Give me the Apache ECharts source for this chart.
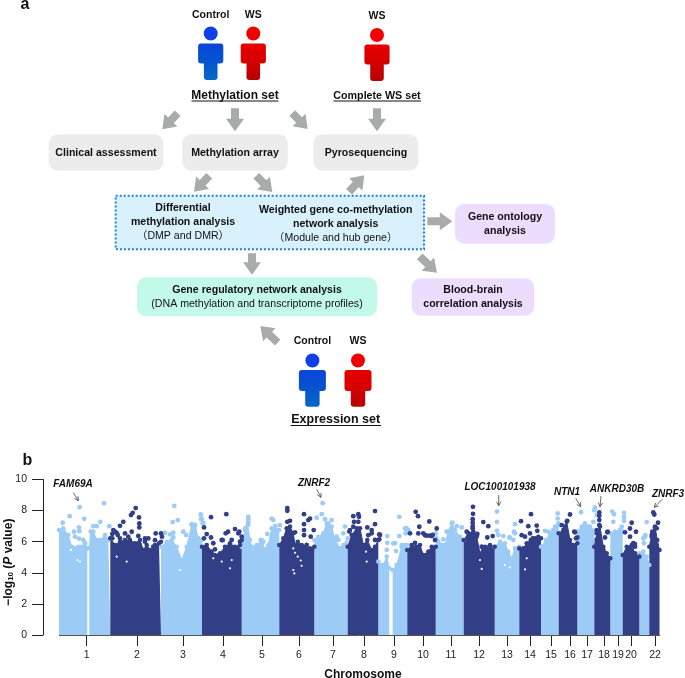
<!DOCTYPE html>
<html><head><meta charset="utf-8">
<style>html,body{margin:0;padding:0;background:#fff}#c{width:685px;height:678px}</style>
<script src="https://cdn.jsdelivr.net/npm/echarts@6/dist/echarts.min.js"></script>
</head><body><div id="c"></div>
<script>
// Panel b: genome position (arbitrary units along the concatenated genome), -log10(P)
const chromosomes = ['1','2','3','4','5','6','7','8','9','10','11','12','13','14','15','16','17','18','19','20','21','22'];
const chromosomeCentres = [27.7,78,124,164,203,240,274,305,335,364,392,420,448,471,492,511,528,545,559,572,585,596];
const genes = ['FAM69A','ZNRF2','LOC100101938','NTN1','ANKRD30B','ZNRF3'];

const sky1a = [[0,6.75],[4.3,6.86],[9.3,6.43],[12.7,5.68],[16,5.57],[19.3,5.68],[22.7,5.68],[26,5.68],[28.3,5.57]];
const sky1b = [[30.3,5.57],[31.7,6.65],[34.3,6.65],[37.7,6.11],[41,6.11],[46,6.43],[49.3,6.11],[51.3,6.22]];
const sky2 = [[51.3,6.22],[56,5.79],[61,6],[66,6.11],[71,6.11],[76,5.9],[81,6.11],[84.3,5.47],[87.7,5.79],[91,5.47],[96,5.79],[100,5.9],[102,6]];
const sky3 = [[102,5.68],[107.7,6],[112.7,6.11],[117.7,5.68],[122.7,4.82],[127.7,5.68],[132.7,7.08],[136,7.08],[139.3,6.22],[143,6.11]];
const sky4 = [[143,5.68],[147.7,5.79],[152.7,5.36],[156,5.14],[161,5.25],[166,5.68],[171,5.9],[176,5.68],[181,5.79],[182.7,6.11]];
const sky5 = [[182.7,5.68],[186,6.75],[188.7,7.08],[191,6.11],[192.7,5.68],[197.7,5.79],[202.7,6.11],[206,5.5],[209.3,5.79],[212.7,6.86],[216,6.97],[220.3,6.75]];
const sky6 = [[220.3,5.79],[224.3,6.22],[227.7,6.86],[231,6.97],[234.3,6.54],[236,5.79],[238.7,6],[242.7,5.79],[246,5.68],[251,5.57],[255.3,5.68]];
const sky7 = [[255.3,6.11],[259.3,6.32],[264.3,6.54],[267.7,7.18],[272.7,6.97],[276,6.11],[281,5.57],[284.3,5.79],[288.7,6.22]];
const sky8 = [[288.7,5.68],[292.7,6.43],[297.7,6.86],[301,6.86],[304.3,5.79],[308.3,6.11],[312.7,5.47],[316,5.68],[319.3,6.11]];
const sky9a = [[319.3,4.72],[324.3,4.5],[327.7,5.04],[330.3,4.29]];
const sky9b = [[333.7,4.18],[337.7,4.5],[342.7,5.68],[346,5.79],[348.3,5.79]];
const sky10 = [[348.3,5.47],[352.7,5.79],[357.7,5.68],[361,5.79],[364.3,5.14],[369.3,5.36],[372.7,5.68],[376.7,5.68]];
const sky11 = [[376.7,6.54],[382.7,5.79],[386,5.79],[389.3,6.65],[392.7,7.18],[396,6.75],[401,6.32],[404.7,6.11]];
const sky12 = [[404.7,6.11],[409.3,6.54],[414.3,6.65],[417.7,6.32],[421,5.25],[426,5.68],[431,5.79],[435.7,5.68]];
const sky13 = [[435.7,5.68],[441,6],[446,5.9],[449.3,5.36],[452.7,4.93],[456,5.57],[460.3,5.68]];
const sky14 = [[460.3,5.57],[464.3,5.57],[467.7,5.9],[471.7,6.11],[476,6.22],[479.3,6.32],[482,6.22]];
const sky15 = [[482,5.68],[487,6.11],[491,6.54],[496,6.97],[499.7,7.08]];
const sky16 = [[499.7,6.54],[504.3,6.75],[507.7,7.29],[511,6.11],[514.3,5.79],[518.3,5.9]];
const sky17 = [[518.3,6.65],[522.7,6.97],[526,7.18],[529.3,6.97],[532.7,6.75],[535.3,6.65]];
const sky18 = [[535.3,5.68],[537.7,6.54],[541,6.97],[544.3,5.68],[547.7,5.25],[551.3,4.93]];
const sky19 = [[551.3,6.54],[556,6.65],[561,6.75],[563.7,6.65]];
const sky20 = [[563.7,5.14],[567.7,5.68],[572.7,5.79],[576,5.25],[580.3,5.04]];
const sky21 = [[580.3,5.25],[584.3,5.36],[587.7,5.04],[590.3,4.5]];
const sky22 = [[590.3,5.68],[592.7,6.43],[596,6.97],[598.3,6.11],[600.5,5.47]];

const lightSkylines = [sky1a,sky1b,sky3,sky5,sky7,sky9a,sky9b,sky11,sky13,sky15,sky17,sky19,sky21];
const darkSkylines = [sky2,sky4,sky6,sky8,sky10,sky12,sky14,sky16,sky18,sky20,sky22];

const lightPeaks = [[3.7,7.22],[10.7,7.64],[20.7,8.22],[25.3,7.47],[20,6.92],[45,8.48],[41.3,7.28],[50.3,7],[15,6.64],[20.3,6.68],[34.3,7],[37.7,7],
[16,6.32],[20,6.2],[24.3,6.11],[26,5.9],
[115.3,8.31],[113.7,7.26],[118.7,7.39],[132.7,7.13],[136,7.04],[106,6.57],[124.3,6.64],[114.3,6.27],[141.7,7.75],[142.7,7.49],[144.3,7.22],
[127,6.43],[111,6.47],[114.3,6.58],[142,7.44],[143.7,7.18],
[189.3,7.6],[189.3,7.43],[189.3,7.26],[189.3,7.09],[186,6.85],[212.7,7.49],[214.3,7.39],[216.3,7],[221,7.07],
[208.3,6.5],[204.3,6],[201.7,6.11],
[263.7,8.48],[262.7,7.77],[266,7.45],[272.7,7.39],[257.7,7.54],[269.3,7.17],
[277.7,6.32],[279.3,6.11],[286,6.97],[284.3,6.54],
[340.3,7.6],[328.3,6.36],[328.3,5.93],[334.3,5.89],[340.3,6.36],[346,6.85],[349.3,6.75],[342.7,5.78],
[327.7,5.47],[336,5.9],[337,5.4],[347.7,6.86],[346.7,6.54],
[393.3,7.22],[397.7,7],[402.7,6.92],[387.7,6.64],[384.3,6.15],
[438,7.94],[438,7.28],[438,6.7],[444.3,6.36],[450.3,6.27],[456,7.13],[455,6.64],
[439.3,6.43],[451,6.26],[456,6.54],[454.3,6.11],
[498.7,7.82],[498.7,7.49],[499.3,7.17],[486,6.7],[494.3,6.75],[489.3,6.65],
[522,7.9],[526,7.07],[536,8.2],[535.3,8.03],[537.7,7.71],[534.3,7.28],[531,6.96],
[553.3,7.94],[555,7.77],[565,7.86],[565,7.6],[565,7.34],[554.3,7.28],[562.7,6.96],
[587.7,7.26],[586.3,6.42],[584.3,6.21],[586,6.32],[585,5.9]];
const darkPeaks = [[76.7,8.16],[73.7,7.86],[72,7.71],[80,7.56],[64.3,7.28],[61,7.02],[54.3,6.75],[80.3,7.17],[80.3,6.92],[57.7,6.57],[66,6.53],[72.7,6.64],[86,6.21],[96.7,6.53],[102,6.53],[96,6.1],[89.3,6.21],
[56,6.65],[53.3,6.5],[53.3,6.22],[58.7,6.43],[61,6.22],[69.3,6.32],[79.3,6.37],[103,6.32],[86,6],[94.3,5.68],
[145,6.92],[152,7.58],[167.3,7.77],[147.7,6.49],[152,6.27],[176,6.81],[169,6.64],[163.7,6.1],[180.3,6.64],
[145,6.22],[154.3,5.9],[156,5.51],[162.7,6.11],[166.7,6.54],[172.7,6.11],[179.3,6.54],[182.7,6.32],[181,6],[177.7,5.36],
[228.3,8.16],[228.3,7.99],[245,7.77],[251,7.49],[249.3,7.39],[245,7.13],[231,7.34],[228.3,7.28],[245,6.75],[245,6.42],[254.7,6.75],[251.7,6.32],[236,6.6],[247.7,5.79],
[316,7.97],[299.3,7.77],[294.3,7.64],[300,7.6],[295,7.28],[299.3,7.28],[316,7.13],[308.3,6.92],[312.7,6.75],[320.3,6.47],[294.3,6.96],[291,6.75],[299.3,6.75],[309.3,6.42],
[321,6.43],[320.3,6.15],[316,6.11],[312.7,6.54],[290.3,6.65],[294.3,6.22],
[356.7,7.92],[359,7.64],[370.3,7.3],[360.3,6.96],[359.3,6.53],[366,6.42],[372.7,6.36],[377.7,6.85],
[351,6.54],[356,5.93],[364.3,6.54],[367.7,6.39],[371,6.39],[373.7,6.43],[376,6.11],
[414,8.24],[414,7.79],[413.7,7.45],[413.7,7.22],[413.7,7],[424.3,7.26],[429.3,7],[428.3,6.27],[433.7,6.36],[407.7,6.64],[417.7,6.42],
[413.7,6.86],[418.3,6.5],[422.7,5.68],[424.3,5.5],
[472,7.77],[462,7.32],[469.3,7],[477.7,7.04],[478.3,6.7],[471,6.53],[462.7,6.42],[473.7,6.21],[466,6.32],
[511,7.75],[508.3,7.34],[506,6.96],[515.3,6.64],[502.7,7.07],[518.3,6.27],[516,6.6],[517,6.22],
[540.3,7.88],[540.3,7.67],[540.3,7.39],[540.3,7.07],[548.7,6.64],[537.7,6.75],[546,6.27],[548.3,6.6],[537.7,6.11],[544.3,5.47],[541,5.25],
[572.7,7.22],[571,6.85],[566,6.6],[577,6.64],[571,6.32],[576,5.85],[574.3,5.9],[576,5.68],
[594.3,7.88],[595.3,7.75],[599,7.22],[596,6.92],[593.3,6.64],[592.7,6.32],[597.7,6.86]];
// Places inside the mass where no probe reaches (small white specks in the reference)
const emptySpots = [[18.3,4.82],[21,4.72],[12,5.47],[121,4.18],[57.7,5.04],[67.7,4.72],[162.7,4.72],[171,4.29],[154.3,4.93],[172.7,4.82],
[234.3,5.57],[236,5.29],[238.7,5.04],[241.7,4.79],[242.7,4.45],[234.3,4.18],[235.3,3.96],[307.7,4.72],[307,5.36],[422.7,4.25],[421,4.82],
[451,4.35],[446,4.5],[466,4.22],[467.7,4.93]];

const LIGHT = '#9ccbf6', DARK = '#323f87', GREY = '#a9abaa', INK = '#111';
const FONT = '"Liberation Sans","Noto Sans CJK JP",Arial,sans-serif';
const joined = groups => groups.flatMap(g => [...g, [g[g.length-1][0], '-']]);

// ---- Diagram helpers ----
const g = [];
function text(str, x, y, size, bold, extra) {
  g.push(Object.assign({type:'text', x, y, z:10, silent:true, style:{
    text:str, fill:INK, font:(bold?'bold ':'')+size+'px '+FONT,
    align:'center', verticalAlign:'middle', textAlign:'center', textVerticalAlign:'middle'}}, extra||{}));
}
function box(x0,y0,x1,y1,fill,r,extra) {
  g.push({type:'rect', z:5, silent:true, shape:{x:x0,y:y0,width:x1-x0,height:y1-y0,r:r===undefined?9:r}, style:Object.assign({fill},extra||{})});
}
function underline(x0,x1,y){ g.push({type:'line',z:10,silent:true,shape:{x1:x0,y1:y,x2:x1,y2:y},style:{stroke:INK,lineWidth:1}}); }
function arrow(tx,ty,px,py) {
  const dx=px-tx, dy=py-ty, L=Math.hypot(dx,dy), ux=dx/L, uy=dy/L, nx=-uy, ny=ux;
  const hl=12.5, hw=9, sw=4;
  const P=(a,b)=>[tx+ux*a+nx*b, ty+uy*a+ny*b];
  g.push({type:'polygon',z:5,silent:true,shape:{points:[P(0,-sw),P(L-hl,-sw),P(L-hl,-hw),P(L,0),P(L-hl,hw),P(L-hl,sw),P(0,sw)]},style:{fill:GREY}});
}
function person(cx,headY,top,bottom,halfW,legW,shoulderB,kind) {
  const cols = kind==='b' ? ['#0f3fe6','#0a45d8','#0468c6'] : ['#f20000','#e60000','#b80000'];
  g.push({type:'circle',z:5,silent:true,shape:{cx,cy:headY,r:7},style:{fill:cols[0]}});
  box(cx-legW,top+4,cx+legW,bottom,{type:'linear',x:0,y:0,x2:0,y2:1,colorStops:[{offset:0,color:cols[1]},{offset:1,color:cols[2]}]},3);
  box(cx-halfW,top,cx+halfW,shoulderB,{type:'linear',x:0,y:0,x2:0,y2:1,colorStops:[{offset:0,color:cols[1]},{offset:1,color:kind==='b'?'#0556ce':'#d40000'}]},3);
}

// ---- Panel letters ----
text('a',25,5,16,true);
text('b',27.5,461,16,true);

// ---- People ----
person(210.7,33.5,43.5,80,12.6,6.8,63.5,'b');
person(253.3,33.5,43.5,80,12.6,6.8,63.5,'r');
person(377,35,44.5,81,12.6,6.8,64.5,'r');
person(312.4,360.5,370,406.8,13.5,7.2,391,'b');
person(358,360.5,370,406.8,13.5,7.2,391,'r');

text('Control',210.7,14.7,10.5,true);
text('WS',253.3,14.7,10.5,true);
text('WS',377,16,10.5,true);
text('Methylation set',235,95.3,12,true); underline(191.5,278.5,101);
text('Complete WS set',377,96,10.7,true); underline(333.5,421,101);
text('Control',312.4,341,10.5,true);
text('WS',358,341,10.5,true);
text('Expression set',335.7,420,12.5,true); underline(290.5,381,425.5);

// ---- Boxes ----
box(48.7,134.3,163.3,170.7,'#ececec');
box(182.3,134.3,287.7,170.7,'#ececec');
box(313.3,134.3,418.3,170.7,'#ececec');
text('Clinical assessment',106,153,10.6,true);
text('Methylation array',235,153,10.6,true);
text('Pyrosequencing',366,153,10.6,true);

box(115.7,195.7,424,249.3,'#d8f1fd',0,{stroke:'#1b7fe0',lineWidth:2,lineDash:[2,2]});
text('Differential',183,207.7,10.6,true);
text('methylation analysis',183,222,10.6,true);
text('（DMP and DMR）',183,236,10.6,false);
text('Weighted gene co-methylation',335.7,210,10.6,true);
text('network analysis',335.7,224,10.6,true);
text('（Module and hub gene）',335.7,237.7,10.6,false);

box(455,204,555,243.7,'#ecdcfd');
text('Gene ontology',505,217.3,10.6,true);
text('analysis',505,231.3,10.6,true);
box(411.7,278.3,534.3,315.7,'#ecdcfd');
text('Blood-brain',473,289.7,10.6,true);
text('correlation analysis',473,303.7,10.6,true);
box(137,277.3,377,316.3,'#c3f9e9');
text('Gene regulatory network analysis',257,289.7,10.6,true);
text('(DNA methylation and transcriptome profiles)',257,303.7,10.6,false);

// ---- Flow arrows (tail x,y → tip x,y) ----
arrow(177.7,113.3,162.3,129.3);
arrow(235,108.3,235,131.3);
arrow(292.3,113,307.7,129);
arrow(377,108.3,377,131.3);
arrow(209.3,175.7,194,191.7);
arrow(256.3,175.7,272.3,192);
arrow(349,191.7,364.3,175.3);
arrow(427.3,221.3,452.3,221.3);
arrow(419.7,256.3,437,272.7);
arrow(252,253.3,252,274.7);
arrow(277.7,342.7,260.3,326);

// ---- Gene labels and pointers ----
const geneFont = 'italic bold 10px '+FONT;
function gene(name,x,y,x0,y0,x1,y1){
  g.push({type:'text',x,y,z:10,silent:true,style:{text:name,fill:INK,font:geneFont,align:'center',verticalAlign:'middle',textAlign:'center',textVerticalAlign:'middle'}});
  const a=Math.atan2(y1-y0,x1-x0), h=4.5;
  g.push({type:'polyline',z:10,silent:true,shape:{points:[[x0,y0],[x1,y1]]},style:{stroke:'#444',lineWidth:0.8,fill:null}});
  g.push({type:'polyline',z:10,silent:true,shape:{points:[[x1-h*Math.cos(a-0.5),y1-h*Math.sin(a-0.5)],[x1,y1],[x1-h*Math.cos(a+0.5),y1-h*Math.sin(a+0.5)]]},style:{stroke:'#444',lineWidth:0.8,fill:null}});
}
gene(genes[0],73,484,73.3,492.7,78.3,500.7);
gene(genes[1],314,483,316.7,489.3,321,497.3);
gene(genes[2],500,487,498.7,495,498.7,505.7);
gene(genes[3],567,492,575.7,498.3,580.7,506.7);
gene(genes[4],617,489,601,496,600,506.7);
gene(genes[5],668,494,662.3,499.3,654.3,507.3);

// ---- Chart ----
const chart = echarts.init(document.getElementById('c'),null,{renderer:'canvas'});
function area(name,color,groups){
  return {name,type:'line',data:joined(groups),connectNulls:false,showSymbol:true,showAllSymbol:true,symbol:'circle',symbolSize:4.6,
    itemStyle:{color},lineStyle:{color,width:1},areaStyle:{color,opacity:1},silent:true,clip:false,z:2,
    markLine: name==='Even chromosomes' ? {silent:true,symbol:'none',label:{show:false},lineStyle:{color:'#555',width:1,type:'solid'},data:[[{coord:[0,0]},{coord:[601,0]}]]} : undefined};
}
function peaks(name,color,data,size,z){
  return {name,type:'scatter',data,symbol:'circle',symbolSize:size,itemStyle:{color,opacity:1},silent:true,clip:false,z};
}
chart.setOption({
  animation:false,
  backgroundColor:'#fff',
  textStyle:{fontFamily:FONT},
  graphic:g,
  grid:{left:43,right:25,top:479.5,height:155.5,containLabel:false,outerBoundsMode:'none'},
  xAxis:{type:'value',min:-16,max:601,splitLine:{show:false},
    axisLine:{show:false,onZero:false},
    axisTick:{show:true,length:11,customValues:chromosomeCentres,lineStyle:{color:'#222',width:1}},
    axisLabel:{show:true,margin:15,fontSize:10.5,color:'#222',customValues:chromosomeCentres,hideOverlap:false,showMinLabel:true,showMaxLabel:true,
      formatter:v=>chromosomes[chromosomeCentres.indexOf(v)]},
    name:'Chromosome',nameLocation:'middle',nameGap:34,nameMoveOverlap:false,
    nameTextStyle:{fontWeight:'bold',fontSize:12,color:INK,padding:[0,0,0,23]}},
  yAxis:{type:'value',min:0,max:10,interval:2,splitLine:{show:false},
    axisLine:{show:true,onZero:false,lineStyle:{color:'#222',width:1}},
    axisTick:{show:true,length:11,lineStyle:{color:'#222',width:1}},
    axisLabel:{margin:16,fontSize:10.5,color:'#222'},
    name:'{b|−log}{s|10}{b| (}{i|P}{b| value)}',nameLocation:'middle',nameGap:28,nameMoveOverlap:false,
    nameTextStyle:{padding:[0,10,0,0],rich:{b:{fontWeight:'bold',fontSize:12,color:INK},s:{fontWeight:'bold',fontSize:8,color:INK,verticalAlign:'bottom'},i:{fontWeight:'bold',fontStyle:'italic',fontSize:12,color:INK}}}},
  series:[area('Odd chromosomes',LIGHT,lightSkylines),area('Even chromosomes',DARK,darkSkylines),
          peaks('Odd peaks',LIGHT,lightPeaks,4.8,3),peaks('Even peaks',DARK,darkPeaks,4.8,3),
          peaks('Empty spots','#fff',emptySpots,2.2,4)]
});
</script></body></html>
